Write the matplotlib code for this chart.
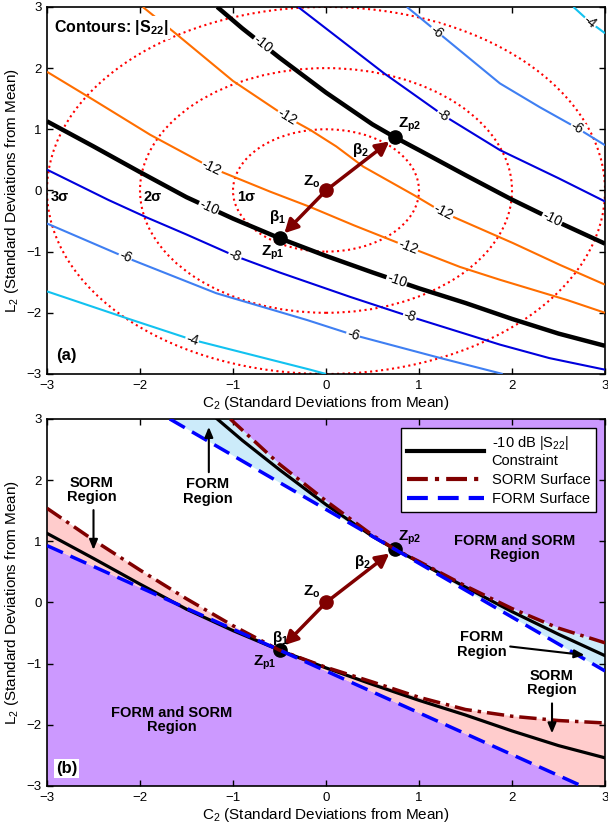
import numpy as np
import matplotlib
matplotlib.use("Agg")
import matplotlib.pyplot as plt
from matplotlib.patches import Circle
from matplotlib.lines import Line2D

plt.rcParams['font.family'] = ['Liberation Sans', 'DejaVu Sans']
plt.rcParams['mathtext.default'] = 'regular'

# ---- panel (a): |S22| contour lines ----
c10_lo_x = [-3, -2.5, -2.0, -1.5, -1.0, -0.5, 0, 0.5, 1.0, 1.5, 2.0, 2.5, 3.0]
c10_lo_y = [1.13, 0.72, 0.30, -0.11, -0.46, -0.78, -1.07, -1.34, -1.60, -1.84, -2.10, -2.34, -2.54]
c10_up_x = [-1.17, -0.9, -0.5, 0, 0.5, 0.74, 1.0, 1.5, 2.0, 2.5, 3.0]
c10_up_y = [3.0, 2.65, 2.17, 1.60, 1.08, 0.87, 0.66, 0.25, -0.15, -0.52, -0.87]
c12_lo_x = [-3, -2.5, -1.89, -1.23, -0.6, -0.17, 0.3, 0.88, 1.44, 1.87, 2.59, 3.0]
c12_lo_y = [1.94, 1.48, 0.91, 0.37, -0.02, -0.27, -0.57, -0.92, -1.25, -1.46, -1.79, -2.0]
c12_up_x = [-1.97, -1.62, -1.0, -0.42, -0.17, 0.11, 0.40, 0.95, 1.26, 2.01, 2.52, 3.0]
c12_up_y = [3.0, 2.57, 1.79, 1.20, 0.99, 0.72, 0.39, -0.08, -0.36, -0.86, -1.22, -1.54]
c8_lo_x = [-3, -2.34, -1.93, -1.5, -0.98, -0.5, 0.26, 0.90, 1.87, 2.4, 3.0]
c8_lo_y = [0.34, -0.155, -0.44, -0.72, -1.07, -1.34, -1.74, -2.06, -2.52, -2.74, -2.93]
c8_up_x = [-0.30, 0.62, 1.26, 1.87, 2.5, 3.0]
c8_up_y = [3.0, 1.92, 1.23, 0.66, 0.20, -0.18]
c6_lo_x = [-3, -2.16, -1.18, -0.2, 0.29, 1.23, 1.9]
c6_lo_y = [-0.54, -1.09, -1.68, -2.12, -2.36, -2.74, -3.0]
c6_up_x = [0.87, 1.19, 1.87, 2.30, 2.70, 3.0]
c6_up_y = [3.0, 2.6, 1.75, 1.36, 1.02, 0.74]
c4_lo_x = [-3, -2.14, -1.44, -0.17, 0.0]
c4_lo_y = [-1.65, -2.09, -2.44, -2.93, -3.0]
c4_up_x = [2.66, 2.84, 3.0]
c4_up_y = [3.0, 2.75, 2.57]

sigma_radii = [1, 2, 3]
sigma_labels = ['1σ', '2σ', '3σ']

# ---- panel (b): FORM / SORM surfaces ----
sorm_lo_x = [-3, -2.5, -2.0, -1.5, -1.0, -0.5, 0, 0.5, 1.0, 1.5, 2.0, 2.5, 3.0]
sorm_lo_y = [1.54, 1.02, 0.53, 0.06, -0.38, -0.78, -1.06, -1.30, -1.55, -1.75, -1.86, -1.93, -1.97]
sorm_up_x = [-1.03, -0.5, 0, 0.5, 0.74, 1.0, 1.5, 2.0, 2.5, 3.0]
sorm_up_y = [3.0, 2.26, 1.66, 1.10, 0.87, 0.67, 0.27, -0.10, -0.42, -0.66]
form_lo_x = [-3.0, 2.75]
form_lo_y = [0.93, -3.0]
form_up_x = [-1.68, 3.0]
form_up_y = [3.0, -1.12]

zo = (0.0, 0.0)
zp1 = (-0.5, -0.78)
zp2 = (0.74, 0.87)

DARKRED = '#800000'
ORANGE = '#FF6E00'
BLUE8 = '#0000DD'
BLUE6 = '#3F7FF2'
CYAN4 = '#12C2F0'
PURPLE = '#CC99FF'
PINK = '#FFCCCC'
LBLUE = '#CCEBFA'

fig = plt.figure(figsize=(6.08, 8.27), dpi=100)
ax1 = fig.add_axes([0.0773, 0.5478, 0.9178, 0.4438])
ax2 = fig.add_axes([0.0773, 0.0496, 0.9178, 0.4438])

for ax in (ax1, ax2):
    ax.set_xlim(-3, 3)
    ax.set_ylim(-3, 3)
    ax.set_xticks(range(-3, 4))
    ax.set_yticks(range(-3, 4))
    ax.tick_params(direction='in', top=True, right=True, length=4, width=1, labelsize=9.5, pad=4)
    for s in ax.spines.values():
        s.set_linewidth(1.2)
    ax.set_xlabel('C$_2$ (Standard Deviations from Mean)', fontsize=11, labelpad=2)
    ax.set_ylabel('L$_2$ (Standard Deviations from Mean)', fontsize=11, labelpad=4)


def clabel(ax, xs, ys, x0, txt):
    y0 = np.interp(x0, xs, ys)
    d = 0.08
    p1 = ax.transData.transform((x0 - d, np.interp(x0 - d, xs, ys)))
    p2 = ax.transData.transform((x0 + d, np.interp(x0 + d, xs, ys)))
    ang = np.degrees(np.arctan2(p2[1] - p1[1], p2[0] - p1[0]))
    ax.text(x0, y0, txt, rotation=ang, rotation_mode='anchor', ha='center', va='center',
            fontsize=10, zorder=5, bbox=dict(fc='white', ec='none', pad=0.6))


# ---------------- panel (a) ----------------
for r in sigma_radii:
    ax1.add_patch(Circle(zo, r, fill=False, ec='red', ls=':', lw=1.5, zorder=2))

contours = [
    (c4_lo_x, c4_lo_y, CYAN4, 1.5, '-4', [-1.44]),
    (c4_up_x, c4_up_y, CYAN4, 1.5, '-4', [2.84]),
    (c6_lo_x, c6_lo_y, BLUE6, 1.5, '-6', [-2.16, 0.29]),
    (c6_up_x, c6_up_y, BLUE6, 1.5, '-6', [1.19, 2.70]),
    (c8_lo_x, c8_lo_y, BLUE8, 1.5, '-8', [-0.98, 0.90]),
    (c8_up_x, c8_up_y, BLUE8, 1.5, '-8', [1.26]),
    (c12_lo_x, c12_lo_y, ORANGE, 1.5, '-12', [-1.23, 0.88]),
    (c12_up_x, c12_up_y, ORANGE, 1.5, '-12', [-0.42, 1.26]),
    (c10_lo_x, c10_lo_y, 'black', 3.2, '-10', [-1.26, 0.76]),
    (c10_up_x, c10_up_y, 'black', 3.2, '-10', [-0.68, 2.43]),
]
for xs, ys, col, lw, txt, lx in contours:
    ax1.plot(xs, ys, color=col, lw=lw, zorder=3, solid_capstyle='butt', solid_joinstyle='round')
for xs, ys, col, lw, txt, lx in contours:
    for x0 in lx:
        clabel(ax1, xs, ys, x0, txt)

for r, lab in zip(sigma_radii, sigma_labels):
    ax1.text(-r + 0.04, -0.1, lab, fontsize=10.5, fontweight='bold', ha='left', va='center', zorder=6)

ax1.text(-2.93, 2.66, 'Contours: |S$_{22}$|', fontsize=11.5, fontweight='bold', ha='left', va='center',
         zorder=6, bbox=dict(fc='white', ec='none', pad=1.5))
ax1.text(-2.79, -2.69, '(a)', fontsize=12, fontweight='bold', ha='center', va='center', zorder=6,
         bbox=dict(fc='white', ec='none', pad=1.5))


def draw_points(ax, top_labels):
    for zp in (zp1, zp2):
        ax.annotate('', xy=zp, xytext=zo, zorder=7,
                    arrowprops=dict(arrowstyle='-|>,head_length=0.8,head_width=0.42', color=DARKRED, lw=2.5,
                                    shrinkA=0, shrinkB=5))
    ax.plot(*zo, 'o', ms=9.5, color=DARKRED, zorder=8)
    for txt, (x, y) in top_labels:
        ax.text(x, y, txt, fontsize=11, fontweight='bold', ha='center', va='center', zorder=9)


ax1.plot([zp1[0], zp2[0]], [zp1[1], zp2[1]], 'o', ms=9.5, color='black', ls='none', zorder=8)
draw_points(ax1, [('Z$_o$', (-0.15, 0.14)), ('Z$_{p2}$', (0.90, 1.07)), ('β$_2$', (0.37, 0.66)),
                  ('Z$_{p1}$', (-0.57, -1.02)), ('β$_1$', (-0.52, -0.43))])

# ---------------- panel (b) ----------------
ax2.fill(form_lo_x + [-3.0], form_lo_y + [-3.0], color=PURPLE, lw=0, zorder=1)
ax2.fill(sorm_lo_x + [3.0] + form_lo_x[::-1], sorm_lo_y + [-3.0] + form_lo_y[::-1], color=PINK, lw=0, zorder=1)
ax2.fill(sorm_up_x + [3.0], sorm_up_y + [3.0], color=PURPLE, lw=0, zorder=1)
ax2.fill(sorm_up_x + form_up_x[::-1], sorm_up_y + form_up_y[::-1], color=LBLUE, lw=0, zorder=1)

ax2.plot([zp1[0], zp2[0]], [zp1[1], zp2[1]], 'o', ms=9.5, color='black', ls='none', zorder=2)
for xs, ys in ((c10_lo_x, c10_lo_y), (c10_up_x, c10_up_y)):
    ax2.plot(xs, ys, color='black', lw=2.3, zorder=3, solid_joinstyle='round')
for xs, ys in ((sorm_lo_x, sorm_lo_y), (sorm_up_x, sorm_up_y)):
    ax2.plot(xs, ys, color=DARKRED, lw=2.5, dashes=(5, 1.7, 1, 1.7), zorder=4)
for xs, ys in ((form_lo_x, form_lo_y), (form_up_x, form_up_y)):
    ax2.plot(xs, ys, color='blue', lw=2.5, dashes=(5, 2.4), zorder=5)

draw_points(ax2, [('Z$_o$', (-0.15, 0.17)), ('Z$_{p2}$', (0.90, 1.05)), ('β$_2$', (0.39, 0.66)),
                  ('Z$_{p1}$', (-0.66, -0.99)), ('β$_1$', (-0.49, -0.58))])

region_kw = dict(fontsize=10.5, fontweight='bold', ha='center', va='center', linespacing=1.05, zorder=9)
ax2.text(-2.52, 1.84, 'SORM\nRegion', **region_kw)
ax2.text(-1.27, 1.81, 'FORM\nRegion', **region_kw)
ax2.text(2.03, 0.89, 'FORM and SORM\nRegion', **region_kw)
ax2.text(1.67, -0.69, 'FORM\nRegion', **region_kw)
ax2.text(2.43, -1.32, 'SORM\nRegion', **region_kw)
ax2.text(-1.66, -1.92, 'FORM and SORM\nRegion', **region_kw)

arrow_kw = dict(arrowstyle='-|>,head_length=0.6,head_width=0.25', color='black', lw=1.5, shrinkA=0, shrinkB=0)
ax2.annotate('', xy=(-2.5, 0.86), xytext=(-2.5, 1.51), arrowprops=arrow_kw, zorder=9)
ax2.annotate('', xy=(-1.26, 2.87), xytext=(-1.26, 2.13), arrowprops=arrow_kw, zorder=9)
ax2.annotate('', xy=(2.78, -0.86), xytext=(1.98, -0.72), arrowprops=arrow_kw, zorder=9)
ax2.annotate('', xy=(2.43, -2.14), xytext=(2.43, -1.65), arrowprops=arrow_kw, zorder=9)

ax2.text(-2.79, -2.71, '(b)', fontsize=12, fontweight='bold', ha='center', va='center', zorder=9,
         bbox=dict(fc='white', ec='none', pad=1.5))

handles = [
    Line2D([], [], color='black', lw=3),
    Line2D([], [], color=DARKRED, lw=3, dashes=(5, 1.7, 1, 1.7)),
    Line2D([], [], color='blue', lw=3, dashes=(5, 2.4)),
]
leg = ax2.legend(handles, ['-10 dB |S$_{22}$|\nConstraint', 'SORM Surface', 'FORM Surface'],
                 loc='upper right', fontsize=10.5, fancybox=False, framealpha=1, edgecolor='black',
                 handlelength=5.3, borderaxespad=0.6, labelspacing=0.35, handletextpad=0.5,
                 borderpad=0.4)
leg.get_frame().set_linewidth(1.0)
leg.set_zorder(10)

fig.savefig('out.png', dpi=100)
